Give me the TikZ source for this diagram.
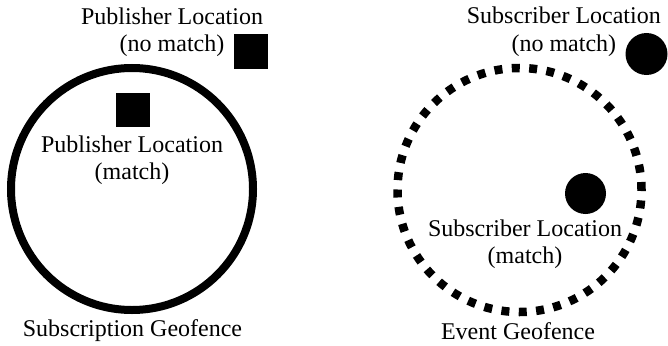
\documentclass[tikz,border=0pt]{standalone}
\usepackage{fontspec}
\setmainfont{Liberation Serif}
\begin{document}
\begin{tikzpicture}[x=1pt,y=-1pt,
  lbl/.style={align=center,inner sep=0pt,font=\fontsize{24}{27.5}\selectfont},
  sq/.style={fill=black,minimum size=34pt,inner sep=0pt,draw=none},
  dotm/.style={circle,fill=black,inner sep=0pt,draw=none},
  fence/.style={circle,draw=black,line width=8pt,inner sep=0pt},
  dfence/.style={circle,draw=black,line width=8.5pt,inner sep=0pt,dash pattern=on 8pt off 9.4pt}]
\useasboundingbox (0,0) rectangle (668,345);
% left
\node[fence,minimum size=242pt] (subgeo) at (132,189) {};
\node[sq] (pubno) at (251,51.5) {};
\node[sq] (pubyes) at (132.5,110) {};
\node[lbl] (pubnotxt) at (172,32) {Publisher Location\\(no match)};
\node[lbl] (pubyestxt) at (132,160) {Publisher Location\\(match)};
\node[lbl] (subgeotxt) at (132.5,331) {Subscription Geofence};
% right
\node[dfence,minimum size=244pt] (evgeo) at (519.5,190) {};
\node[dotm,minimum size=42pt] (subno) at (646.5,54) {};
\node[dotm,minimum size=41pt] (subyes) at (585.5,193.5) {};
\node[lbl,anchor=north east] (subnotxt) at (661,7) {Subscriber Location\\(no match)};
\node[lbl] (subyestxt) at (525,244) {Subscriber Location\\(match)};
\node[lbl] (evgeotxt) at (518,331) {Event Geofence};
\end{tikzpicture}
\end{document}
